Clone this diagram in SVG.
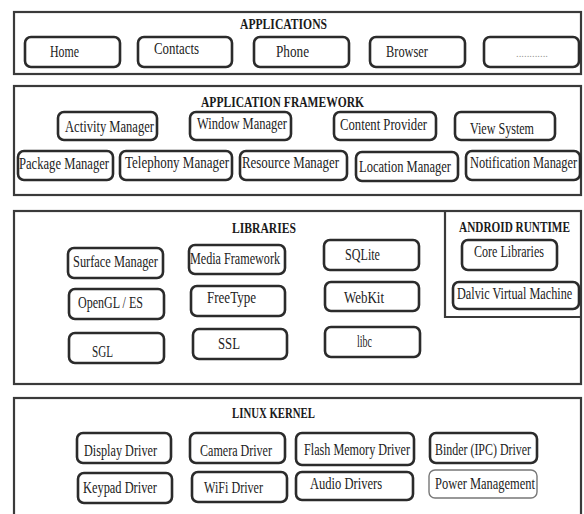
<svg xmlns="http://www.w3.org/2000/svg" width="584" height="514" viewBox="0 0 584 514">
<style>
.frame{fill:#fff;stroke:#3a3a3a;stroke-width:2.2}
.box{fill:#fff;stroke:#2b2b2b;stroke-width:2.6}
.lbl{font-family:"Liberation Serif","DejaVu Serif","Times New Roman",serif;font-size:16px;fill:#222}
.ttl{font-family:"Liberation Serif","DejaVu Serif","Times New Roman",serif;font-size:15px;font-weight:bold;fill:#1a1a1a}
.dots{font-family:"Liberation Serif","DejaVu Serif",serif;font-size:11px;fill:#999}
</style>
<rect width="584" height="514" fill="#fff"/>

<g id="applications">
<rect class="frame" x="14" y="12" width="567" height="62"/>
<text class="ttl" x="240" y="29" textLength="87" lengthAdjust="spacingAndGlyphs">APPLICATIONS</text>
</g>
<g id="home"><rect class="box" x="25" y="37" width="95" height="30" rx="6"/><text class="lbl" x="50" y="57" textLength="29" lengthAdjust="spacingAndGlyphs">Home</text></g>
<g id="contacts"><rect class="box" x="138" y="37" width="94" height="30" rx="6"/><text class="lbl" x="154" y="54" textLength="45" lengthAdjust="spacingAndGlyphs">Contacts</text></g>
<g id="phone"><rect class="box" x="254" y="37" width="95" height="30" rx="6"/><text class="lbl" x="276" y="57" textLength="33" lengthAdjust="spacingAndGlyphs">Phone</text></g>
<g id="browser"><rect class="box" x="370" y="37" width="95" height="30" rx="6"/><text class="lbl" x="386" y="57" textLength="42" lengthAdjust="spacingAndGlyphs">Browser</text></g>
<g id="more"><rect class="box" x="484" y="37" width="95" height="30" rx="6"/><text class="dots" x="516" y="57" textLength="32" lengthAdjust="spacingAndGlyphs">............</text></g>

<g id="application-framework">
<rect class="frame" x="14" y="86" width="567" height="109"/>
<text class="ttl" x="201" y="107" textLength="163" lengthAdjust="spacingAndGlyphs">APPLICATION FRAMEWORK</text>
</g>
<g id="activity-manager"><rect class="box" x="58" y="112" width="99" height="28" rx="6"/><text class="lbl" x="65" y="132" textLength="89" lengthAdjust="spacingAndGlyphs">Activity Manager</text></g>
<g id="window-manager"><rect class="box" x="190" y="112" width="101" height="28" rx="6"/><text class="lbl" x="197" y="129" textLength="90" lengthAdjust="spacingAndGlyphs">Window Manager</text></g>
<g id="content-provider"><rect class="box" x="334" y="112" width="102" height="28" rx="6"/><text class="lbl" x="340" y="130" textLength="87" lengthAdjust="spacingAndGlyphs">Content Provider</text></g>
<g id="view-system"><rect class="box" x="455" y="112" width="100" height="28" rx="6"/><text class="lbl" x="470" y="134" textLength="64" lengthAdjust="spacingAndGlyphs">View System</text></g>
<g id="package-manager"><rect class="box" x="18" y="151" width="95" height="29" rx="6"/><text class="lbl" x="19" y="169" textLength="90" lengthAdjust="spacingAndGlyphs">Package Manager</text></g>
<g id="telephony-manager"><rect class="box" x="120" y="151" width="112" height="29" rx="6"/><text class="lbl" x="125" y="168" textLength="104" lengthAdjust="spacingAndGlyphs">Telephony Manager</text></g>
<g id="resource-manager"><rect class="box" x="240" y="151" width="107" height="29" rx="6"/><text class="lbl" x="242" y="168" textLength="97" lengthAdjust="spacingAndGlyphs">Resource Manager</text></g>
<g id="location-manager"><rect class="box" x="356" y="152" width="102" height="29" rx="6"/><text class="lbl" x="359" y="172" textLength="92" lengthAdjust="spacingAndGlyphs">Location Manager</text></g>
<g id="notification-manager"><rect class="box" x="466" y="151" width="114" height="29" rx="6"/><text class="lbl" transform="translate(470 168) scale(0.8 1)" textLength="134" lengthAdjust="spacingAndGlyphs">Notification Manager</text></g>

<g id="libraries">
<rect class="frame" x="14" y="211" width="567" height="173"/>
<text class="ttl" x="232" y="233" textLength="64" lengthAdjust="spacingAndGlyphs">LIBRARIES</text>
</g>
<g id="android-runtime">
<path d="M445 211 V317 H581" fill="none" stroke="#3a3a3a" stroke-width="2.2"/>
<text class="ttl" transform="translate(459 232) scale(0.75 1)" textLength="148" lengthAdjust="spacingAndGlyphs">ANDROID RUNTIME</text>
</g>
<g id="surface-manager"><rect class="box" x="68" y="248" width="95" height="30" rx="6"/><text class="lbl" x="73" y="267" textLength="85" lengthAdjust="spacingAndGlyphs">Surface Manager</text></g>
<g id="media-framework"><rect class="box" x="189" y="245" width="96" height="29" rx="6"/><text class="lbl" x="190" y="264" textLength="90" lengthAdjust="spacingAndGlyphs">Media Framework</text></g>
<g id="opengl-es"><rect class="box" x="69" y="289" width="95" height="30" rx="6"/><text class="lbl" x="78" y="308" textLength="65" lengthAdjust="spacingAndGlyphs">OpenGL / ES</text></g>
<g id="freetype"><rect class="box" x="191" y="286" width="94" height="30" rx="6"/><text class="lbl" x="207" y="303" textLength="49" lengthAdjust="spacingAndGlyphs">FreeType</text></g>
<g id="sgl"><rect class="box" x="69" y="333" width="95" height="30" rx="6"/><text class="lbl" x="92" y="357" textLength="21" lengthAdjust="spacingAndGlyphs">SGL</text></g>
<g id="ssl"><rect class="box" x="193" y="329" width="94" height="30" rx="6"/><text class="lbl" x="218" y="349" textLength="22" lengthAdjust="spacingAndGlyphs">SSL</text></g>
<g id="sqlite"><rect class="box" x="324" y="240" width="95" height="30" rx="6"/><text class="lbl" x="345" y="260" textLength="35" lengthAdjust="spacingAndGlyphs">SQLite</text></g>
<g id="webkit"><rect class="box" x="325" y="282" width="94" height="29" rx="6"/><text class="lbl" x="344" y="303" textLength="40" lengthAdjust="spacingAndGlyphs">WebKit</text></g>
<g id="libc"><rect class="box" x="325" y="327" width="95" height="30" rx="6"/><text class="lbl" x="357" y="347" textLength="15" lengthAdjust="spacingAndGlyphs">libc</text></g>
<g id="core-libraries"><rect class="box" x="462" y="240" width="95" height="30" rx="6"/><text class="lbl" x="474" y="257" textLength="70" lengthAdjust="spacingAndGlyphs">Core Libraries</text></g>
<g id="dalvic-vm"><rect class="box" x="453" y="282" width="126" height="27" rx="6"/><text class="lbl" transform="translate(457 299) scale(0.8 1)" textLength="144" lengthAdjust="spacingAndGlyphs">Dalvic Virtual Machine</text></g>

<g id="linux-kernel">
<rect class="frame" x="14" y="398" width="567" height="130"/>
<text class="ttl" x="232" y="418" textLength="83" lengthAdjust="spacingAndGlyphs">LINUX KERNEL</text>
</g>
<g id="display-driver"><rect class="box" x="77" y="433" width="94" height="30" rx="6"/><text class="lbl" x="84" y="456" textLength="73" lengthAdjust="spacingAndGlyphs">Display Driver</text></g>
<g id="camera-driver"><rect class="box" x="190" y="433" width="95" height="30" rx="6"/><text class="lbl" x="200" y="456" textLength="72" lengthAdjust="spacingAndGlyphs">Camera Driver</text></g>
<g id="keypad-driver"><rect class="box" x="78" y="473" width="94" height="30" rx="6"/><text class="lbl" x="83" y="493" textLength="74" lengthAdjust="spacingAndGlyphs">Keypad Driver</text></g>
<g id="wifi-driver"><rect class="box" x="192" y="472" width="95" height="30" rx="6"/><text class="lbl" x="204" y="493" textLength="59" lengthAdjust="spacingAndGlyphs">WiFi Driver</text></g>
<g id="flash-memory-driver"><rect class="box" x="296" y="433" width="118" height="32" rx="6"/><text class="lbl" x="304" y="455" textLength="106" lengthAdjust="spacingAndGlyphs">Flash Memory Driver</text></g>
<g id="binder-driver"><rect class="box" x="430" y="433" width="107" height="30" rx="6"/><text class="lbl" x="435" y="455" textLength="96" lengthAdjust="spacingAndGlyphs">Binder (IPC) Driver</text></g>
<g id="audio-drivers"><rect class="box" x="296" y="472" width="117" height="28" rx="6"/><text class="lbl" x="310" y="489" textLength="72" lengthAdjust="spacingAndGlyphs">Audio Drivers</text></g>
<g id="power-management"><rect class="box" x="429" y="470" width="108" height="28" rx="6" style="stroke:#777;stroke-width:1.4"/><text class="lbl" x="435" y="489" textLength="100" lengthAdjust="spacingAndGlyphs">Power Management</text></g>

<g id="connectors"></g>
</svg>
